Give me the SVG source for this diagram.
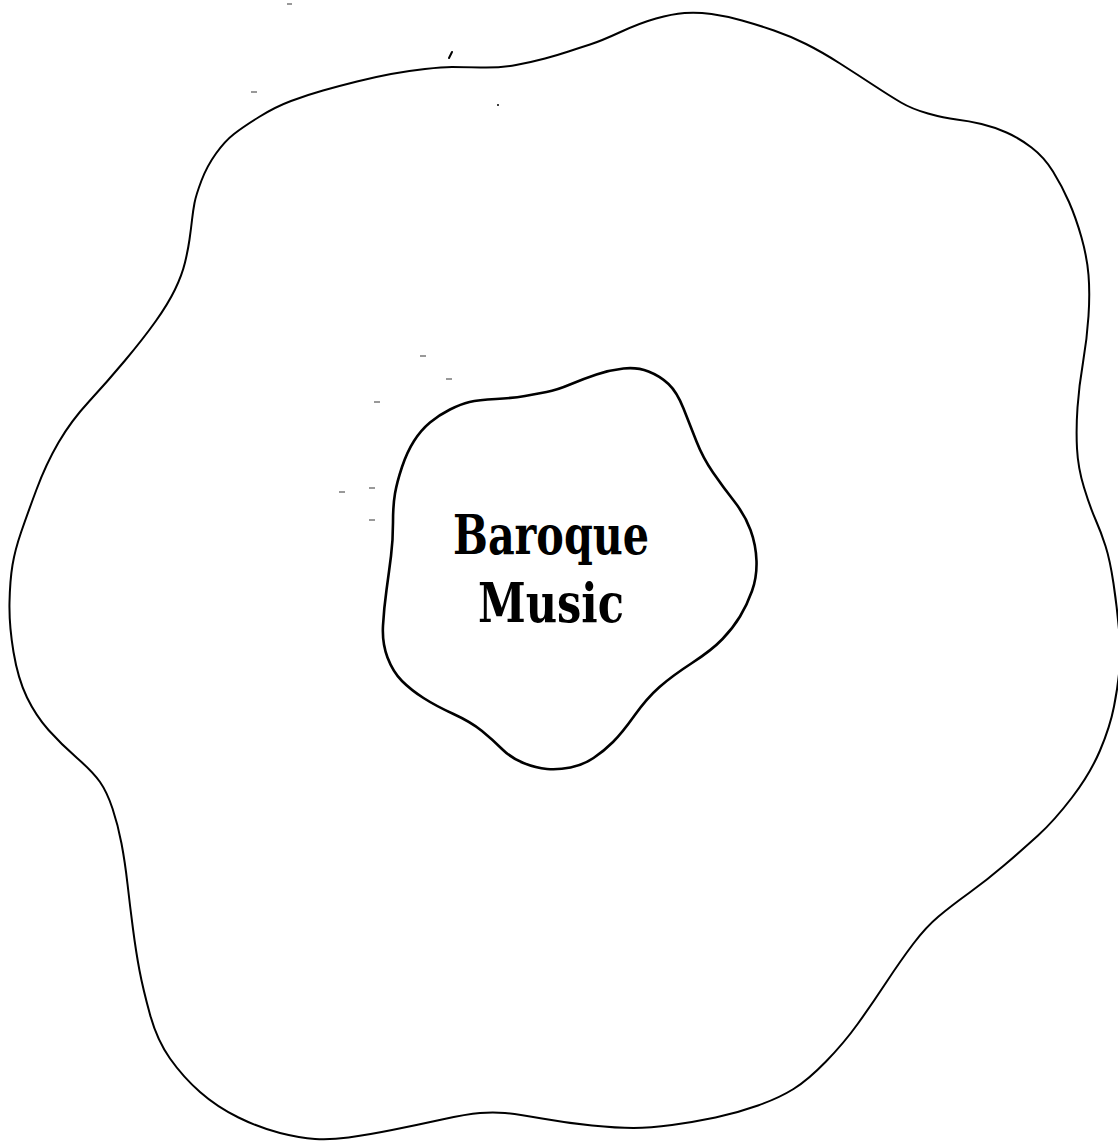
<svg xmlns="http://www.w3.org/2000/svg" width="1118" height="1142" viewBox="0 0 1118 1142">
<style>
.blob{fill:none;stroke:#000;stroke-linejoin:round}
.outer{stroke-width:2}
.inner{stroke-width:2.6}
.label{font-family:"DejaVu Serif","Liberation Serif",serif;font-weight:bold;font-size:54px;fill:#000;text-anchor:middle}
.speck{stroke:#555;stroke-width:1.2;fill:none}
</style>
<rect width="1118" height="1142" fill="#fff"/>
<g id="outer-region">
<path class="blob outer" d="M 545,58.5 Q 558,55 568.5,51.5 Q 579,48 590,44.5 Q 601,41 620.5,32 Q 640,23 656,18.5 Q 672,14 684.5,13 Q 697,12 711.5,14 Q 726,16 742,20.5 Q 758,25 774,30.5 Q 790,36 806,44 Q 822,52 840,63.5 Q 858,75 874,85.5 Q 890,96 901,102.5 Q 912,109 928,113.5 Q 944,118 956.5,119.5 Q 969,121 981.5,124 Q 994,127 1006.5,132.5 Q 1019,138 1031.5,147.5 Q 1044,157 1053,171.5 Q 1062,186 1069,202 Q 1076,218 1081.5,237.5 Q 1087,257 1088.5,275 Q 1090,293 1088.5,316 Q 1087,339 1083,362.5 Q 1079,386 1077.5,407.5 Q 1076,429 1077,448.5 Q 1078,468 1084,487.5 Q 1090,507 1095.5,519.5 Q 1101,532 1105.5,546 Q 1110,560 1113.5,583.5 Q 1117,607 1119,629.5 Q 1121,652 1119.5,669 Q 1118,686 1114,706.5 Q 1110,727 1100,750.5 Q 1090,774 1072,797.5 Q 1054,821 1038,835.5 Q 1022,850 1004.5,865 Q 987,880 969,893 Q 951,906 938.5,916.5 Q 926,927 913.5,943.5 Q 901,960 886.5,982 Q 872,1004 858,1023.5 Q 844,1043 826,1061.5 Q 808,1080 793.5,1089 Q 779,1098 758,1105.5 Q 737,1113 715.5,1117.5 Q 694,1122 672,1125 Q 650,1128 633.5,1128 Q 617,1128 592,1125.5 Q 567,1123 542,1118.5 Q 517,1114 505,1113 Q 493,1112 480,1113 Q 467,1114 442,1119.5 Q 417,1125 392,1130 Q 367,1135 348.5,1137.5 Q 330,1140 315,1139 Q 300,1138 280,1133 Q 260,1128 238.5,1117.5 Q 217,1107 200,1092 Q 183,1077 170,1058.5 Q 157,1040 150,1014.5 Q 143,989 139.5,970.5 Q 136,952 133,929 Q 130,906 127.5,884 Q 125,862 121.5,843.5 Q 118,825 112.5,808.5 Q 107,792 100,782 Q 93,772 77,758 Q 61,744 48.5,730 Q 36,716 27,697.5 Q 18,679 13.5,652 Q 9,625 9.5,602.5 Q 10,580 12.5,565 Q 15,550 21,532.5 Q 27,515 36.5,489.5 Q 46,464 58.5,442.5 Q 71,421 89,401.5 Q 107,382 125,360.5 Q 143,339 155.5,321.5 Q 168,304 175,289.5 Q 182,275 185,262.5 Q 188,250 189.5,239.5 Q 191,229 192,220 Q 193,211 194.5,203 Q 196,195 201.5,180.5 Q 207,166 216,153.5 Q 225,141 234,134 Q 243,127 259,117 Q 275,107 291,101 Q 307,95 323,90.5 Q 339,86 357,81.5 Q 375,77 391,74 Q 407,71 425,69 Q 443,67 452,67 Q 461,67 480.5,67.5 Q 500,68 516,65 Q 532,62 545,58.5 Z"/>
</g>
<g id="baroque-music">
<path class="blob inner" d="M 546.5,392 Q 557,390 570,384.5 Q 583,379 596.5,374.5 Q 610,370 623.5,368.5 Q 637,367 648.5,371.5 Q 660,376 668.5,384 Q 677,392 683.5,408.5 Q 690,425 696.5,441.5 Q 703,458 713,472.5 Q 723,487 734,501 Q 745,515 750.5,530 Q 756,545 756.5,561 Q 757,577 752,591 Q 747,605 740,616.5 Q 733,628 722.5,639 Q 712,650 692,663 Q 672,676 659.5,687 Q 647,698 634.5,715.5 Q 622,733 613,742 Q 604,751 593.5,758 Q 583,765 570.5,767.5 Q 558,770 547,769 Q 536,768 523.5,763 Q 511,758 502,749 Q 493,740 482,731 Q 471,722 453.5,714 Q 436,706 423.5,698 Q 411,690 402,681 Q 393,672 387.5,657.5 Q 382,643 383,625.5 Q 384,608 386.5,590 Q 389,572 391,556 Q 393,540 393,522.5 Q 393,505 395,493.5 Q 397,482 402,467 Q 407,452 414,441 Q 421,430 430,422.5 Q 439,415 450,409.5 Q 461,404 469.5,402 Q 478,400 496,399 Q 514,398 525,396 Q 536,394 546.5,392 Z"/>
<text class="label" x="551" y="554" textLength="196" lengthAdjust="spacingAndGlyphs">Baroque</text>
<text class="label" x="551" y="622" textLength="146" lengthAdjust="spacingAndGlyphs">Music</text>
</g>
<g id="connectors"></g>
<g id="specks">
<line class="speck" x1="287" y1="4" x2="292" y2="4"/>
<path d="M452,52 L449,58" stroke="#000" stroke-width="2" stroke-linecap="round"/>
<line class="speck" x1="251" y1="92" x2="257" y2="92"/>
<circle cx="498" cy="105" r="1" fill="#000"/>
<line class="speck" x1="420" y1="356" x2="426" y2="356"/>
<line class="speck" x1="446" y1="379" x2="452" y2="379"/>
<line class="speck" x1="374" y1="402" x2="380" y2="402"/>
<line class="speck" x1="339" y1="492" x2="345" y2="492"/>
<line class="speck" x1="369" y1="488" x2="375" y2="488"/>
<line class="speck" x1="369" y1="520" x2="375" y2="520"/>
</g>
</svg>
